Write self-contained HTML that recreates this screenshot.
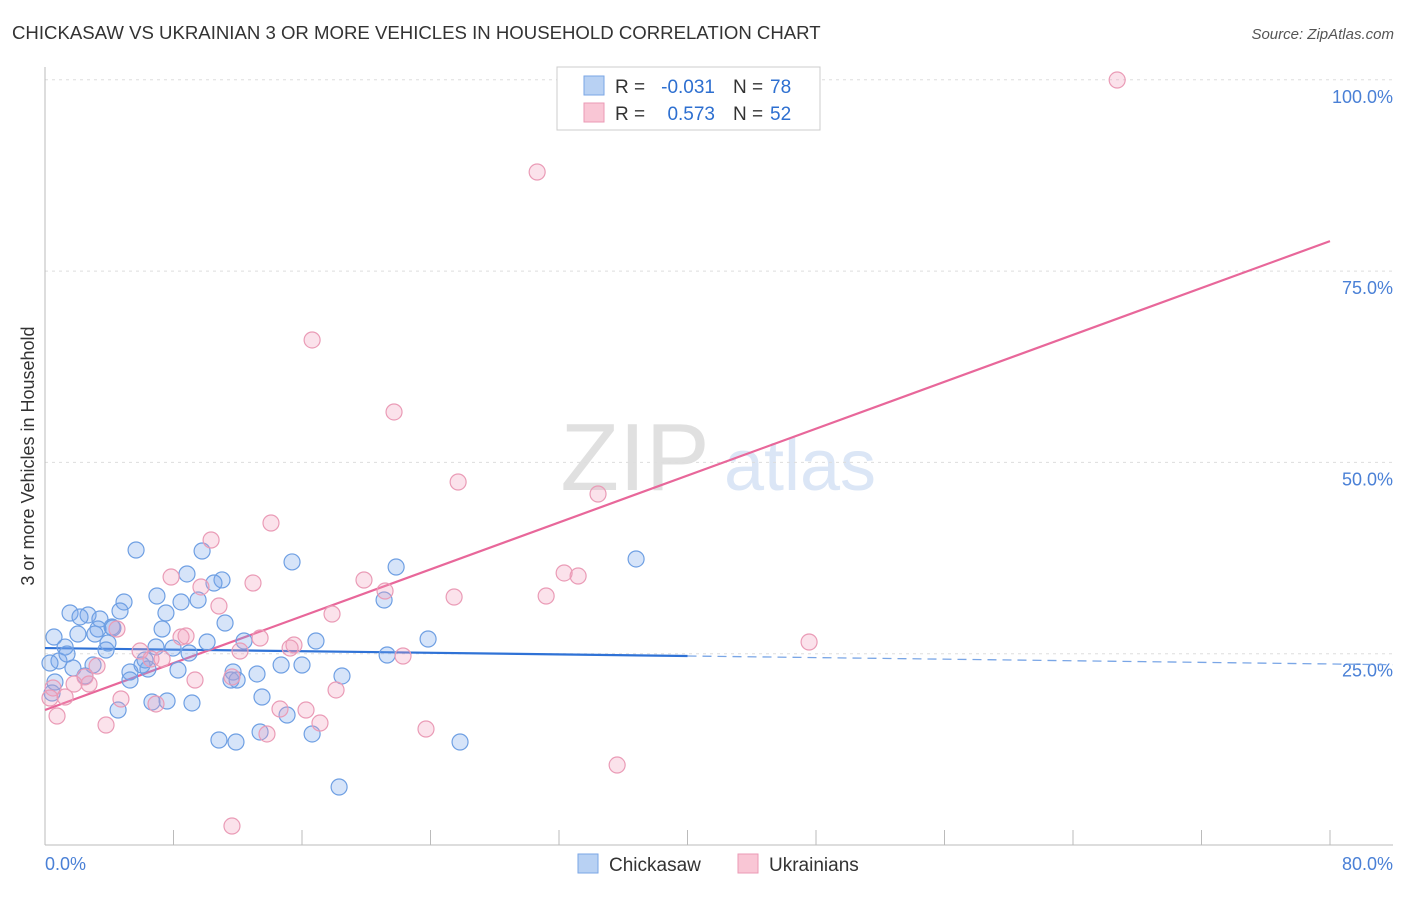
<!DOCTYPE html>
<html><head><meta charset="utf-8"><style>
body{margin:0;background:#fff;font-family:"Liberation Sans",sans-serif}
svg text{font-family:"Liberation Sans",sans-serif}
</style></head><body>
<svg id="chart" width="1406" height="892" viewBox="0 0 1406 892" xmlns="http://www.w3.org/2000/svg">
<text x="12" y="39" font-size="18.6" fill="#333">CHICKASAW VS UKRAINIAN 3 OR MORE VEHICLES IN HOUSEHOLD CORRELATION CHART</text>
<text x="1394" y="39" font-size="15" fill="#555" text-anchor="end" font-style="italic">Source: ZipAtlas.com</text>
<text transform="translate(34,456) rotate(-90)" font-size="18" fill="#333" text-anchor="middle">3 or more Vehicles in Household</text>
<g>
<text x="635" y="490" font-size="96" fill="#e0e0e0" font-family="Liberation Serif" text-anchor="middle">ZIP</text>
<text x="800" y="490" font-size="72" fill="#dbe6f6" text-anchor="middle">atlas</text>
</g>
<g id="grid"></g><g id="axes"></g><g id="lines"></g><g id="pts"></g>
<g>
<rect x="557" y="67" width="263" height="63" fill="#fff" stroke="#ccc"/>
<rect x="584" y="76" width="20" height="19" fill="#b8d1f3" stroke="#7aa6e6"/>
<rect x="584" y="103" width="20" height="19" fill="#f9c6d5" stroke="#eb9ab5"/>
<text x="615" y="93" font-size="19" fill="#333">R =</text>
<text x="715" y="93" font-size="19" fill="#2d6fd0" text-anchor="end">-0.031</text>
<text x="733" y="93" font-size="19" fill="#333">N =</text>
<text x="770" y="93" font-size="19" fill="#2d6fd0">78</text>
<text x="615" y="120" font-size="19" fill="#333">R =</text>
<text x="715" y="120" font-size="19" fill="#2d6fd0" text-anchor="end">0.573</text>
<text x="733" y="120" font-size="19" fill="#333">N =</text>
<text x="770" y="120" font-size="19" fill="#2d6fd0">52</text>
</g>
<g>
<rect x="578" y="854" width="20" height="19" fill="#b8d1f3" stroke="#7aa6e6"/>
<text x="609" y="871" font-size="19" fill="#333">Chickasaw</text>
<rect x="738" y="854" width="20" height="19" fill="#f9c6d5" stroke="#eb9ab5"/>
<text x="769" y="871" font-size="19" fill="#333">Ukrainians</text>
</g>
</svg>
<script>
const blueX=[5.67,9.78,15.38,21.86,36.80,11.02,8.84,10.52,6.97,8.47,9.53,4.92,4.67,7.53,1.56,2.68,2.18,3.42,4.17,3.30,2.05,4.23,7.29,0.56,1.25,3.11,3.92,3.80,6.91,7.97,8.97,10.09,12.39,16.87,23.85,21.11,11.21,21.30,0.87,2.99,1.74,6.04,6.41,5.29,8.28,11.71,13.20,14.70,16.00,18.49,0.62,2.49,5.29,11.58,11.96,0.44,6.66,7.60,9.15,4.55,13.51,15.07,10.83,11.89,13.39,16.63,25.84,18.31,6.23,1.37,0.31];
const blueY=[38.55,38.42,36.99,36.33,37.38,34.64,35.42,34.24,32.54,31.76,32.02,31.76,30.58,30.32,30.32,30.06,29.80,29.53,28.49,28.23,27.57,28.36,28.23,27.18,25.87,27.57,26.40,25.48,25.88,25.74,25.09,26.53,26.66,26.66,26.92,32.02,29.01,24.83,24.05,23.52,23.13,23.52,23.00,22.61,22.87,22.61,22.35,23.52,23.52,22.09,21.30,22.09,21.56,21.56,21.56,19.86,18.69,18.82,18.56,17.64,19.34,16.99,13.72,13.46,14.77,14.51,13.46,7.58,24.18,24.96,23.78];
const pinkX=[66.75,30.64,16.63,21.73,25.72,34.43,14.07,10.34,7.85,9.71,12.95,19.86,32.32,33.19,21.17,25.47,31.20,10.83,17.87,4.48,8.47,13.39,15.50,15.26,12.14,5.92,47.57,6.60,7.29,22.29,3.24,2.49,1.81,2.74,0.50,9.34,18.12,1.25,4.73,6.91,0.31,0.75,3.80,14.63,16.25,17.12,13.82,23.72,35.62,11.64,11.64,8.78];
const pinkY=[99.97,87.95,66.00,56.59,47.44,45.87,42.08,39.86,35.02,33.72,34.24,34.63,35.55,35.15,33.19,32.41,32.54,31.23,30.19,28.23,27.18,27.05,26.14,25.74,25.35,25.35,26.53,24.31,24.31,24.70,23.39,21.96,21.04,21.04,20.52,21.56,20.26,19.34,19.08,18.43,19.21,16.86,15.68,17.77,17.64,15.94,14.51,15.16,10.45,2.48,21.96,27.31];
const yTicks=[25,50,75,100];
const yTickLabels=["25.0%","50.0%","75.0%","100.0%"];
const xTicks=[0,8,16,24,32,40,48,56,64,72,80];
const blueFit=[25.74,-0.026];
const pinkFit=[17.64,0.766];
const sx=v=>45+v/80*1285, sy=v=>845-v*7.652;
const NS="http://www.w3.org/2000/svg";
function mk(t,a,p){const e=document.createElementNS(NS,t);for(const k in a)e.setAttribute(k,a[k]);document.getElementById(p).appendChild(e);return e;}
yTicks.forEach((t,i)=>{
 const l=mk('line',{x1:45,x2:1393,y1:sy(t),y2:sy(t),stroke:'#ddd','stroke-dasharray':'3,4'},'grid');
 
 
 const tx=mk('text',{x:1393,y:sy(t)+23,'font-size':18,fill:'#4a80d6','text-anchor':'end'},'axes');
 tx.textContent=yTickLabels[i];
 
 
});
const ax=mk('line',{x1:45,x2:1393,y1:845,y2:845,stroke:'#bbb'},'axes');


const ay=mk('line',{x1:45,x2:45,y1:67,y2:845,stroke:'#bbb'},'axes');


xTicks.forEach(t=>{const l=mk('line',{x1:sx(t),x2:sx(t),y1:830,y2:845,stroke:'#bbb'},'axes');
 
 });
const x0=mk('text',{x:45,y:870,'font-size':18,fill:'#4a80d6'},'axes');x0.textContent='0.0%';


const x1=mk('text',{x:1393,y:870,'font-size':18,fill:'#4a80d6','text-anchor':'end'},'axes');x1.textContent='80.0%';


function pts(X,Y,fill,stroke,name){X.forEach((x,i)=>{const c=mk('circle',{cx:sx(x),cy:sy(Y[i]),r:8,fill:fill,stroke:stroke,'stroke-width':1.2},'pts');
 
 });}
pts(blueX,blueY,'rgba(120,165,235,0.3)','#6e9fe3','chickasaw-point');
pts(pinkX,pinkY,'rgba(243,160,190,0.3)','#ea9bb6','ukrainian-point');
const bl=mk('line',{x1:sx(0),y1:sy(blueFit[0]),x2:sx(40),y2:sy(blueFit[0]+blueFit[1]*40),stroke:'#2f72d6','stroke-width':2.2},'lines');


const bd=mk('line',{x1:sx(40),y1:sy(blueFit[0]+blueFit[1]*40),x2:sx(83.9),y2:sy(blueFit[0]+blueFit[1]*83.9),stroke:'#7aa6e6','stroke-width':1.3,'stroke-dasharray':'9,6'},'lines');


const pl=mk('line',{x1:sx(0),y1:sy(pinkFit[0]),x2:sx(80),y2:sy(pinkFit[0]+pinkFit[1]*80),stroke:'#e8679a','stroke-width':2.2},'lines');


</script>
</body></html>
